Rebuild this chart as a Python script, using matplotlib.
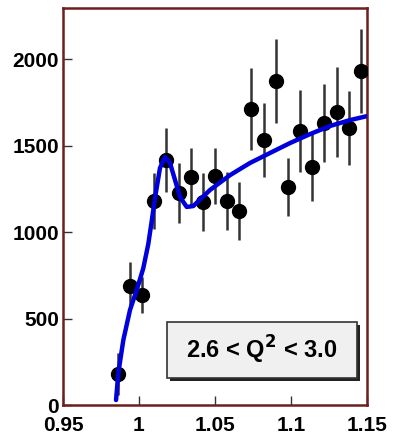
import numpy as np
import matplotlib.pyplot as plt
from matplotlib.patches import Rectangle

# mass bins (GeV) and event counts
x_data = [0.986, 0.994, 1.002, 1.010, 1.018, 1.026, 1.034, 1.042, 1.050, 1.058, 1.066,
          1.074, 1.082, 1.090, 1.098, 1.106, 1.114, 1.122, 1.130, 1.138, 1.146]
y_data = [179, 688, 636, 1179, 1416, 1225, 1318, 1173, 1324, 1179, 1121,
          1711, 1532, 1873, 1260, 1584, 1376, 1630, 1694, 1601, 1931]
y_err = [121, 139, 105, 162, 185, 173, 168, 168, 162, 168, 168,
         237, 214, 243, 168, 237, 197, 225, 260, 214, 243]

# fitted curve
x_fit = [0.9849, 0.9864, 0.9897, 0.9941, 0.9985, 1.0028, 1.0061, 1.0084, 1.0105, 1.0138,
         1.0171, 1.0204, 1.0237, 1.0270, 1.0314, 1.0357, 1.0467, 1.0599, 1.0730, 1.0862,
         1.0993, 1.1125, 1.1257, 1.1388, 1.1500]
y_fit = [29, 185, 376, 550, 665, 790, 930, 1065, 1195, 1370,
         1434, 1399, 1301, 1202, 1145, 1150, 1243, 1329, 1399, 1457,
         1514, 1566, 1613, 1647, 1670]

x_ticks = [0.95, 1.0, 1.05, 1.1, 1.15]
x_labels = ['0.95', '1', '1.05', '1.1', '1.15']
y_ticks = [0, 500, 1000, 1500, 2000]

plt.rcParams['font.family'] = ['Liberation Sans', 'DejaVu Sans']

fig = plt.figure(figsize=(3.93, 4.40), dpi=100)
ax = fig.add_axes([0.1603, 0.0795, 0.7735, 0.9023])

ax.errorbar(x_data, y_data, yerr=y_err, fmt='o', color='black', ms=10,
            ecolor='#333333', elinewidth=1.8, capsize=0, zorder=3)
ax.plot(x_fit, y_fit, color='#0000dd', lw=3.2, zorder=4, solid_capstyle='round')

ax.set_xlim(0.95, 1.15)
ax.set_ylim(0, 2295)
ax.set_xticks(x_ticks)
ax.set_xticklabels(x_labels)
ax.set_yticks(y_ticks)
ax.tick_params(direction='in', length=6.5, width=1, color='#333333',
               labelsize=15, top=False, right=False)
ax.tick_params(axis='x', pad=8)
ax.tick_params(axis='y', pad=3)
for lab in ax.get_xticklabels() + ax.get_yticklabels():
    lab.set_fontweight('bold')
for s in ax.spines.values():
    s.set_color('#6b1f1f')
    s.set_linewidth(1.8)

# label box with drop shadow
bx0, by0, bw, bh = 0.342, 0.068, 0.625, 0.141
ax.add_patch(Rectangle((bx0 + 0.009, by0 - 0.007), bw, bh, transform=ax.transAxes,
                       facecolor='#222222', edgecolor='none', zorder=5))
ax.add_patch(Rectangle((bx0, by0), bw, bh, transform=ax.transAxes,
                       facecolor='#f0f0f0', edgecolor='#333333', lw=1.2, zorder=6))
ax.text(bx0 + bw / 2, by0 + bh / 2, r'2.6 < Q$^\mathbf{2}$ < 3.0', transform=ax.transAxes,
        ha='center', va='center', fontsize=17, fontweight='bold', zorder=7)

fig.savefig('out.png', dpi=100)
